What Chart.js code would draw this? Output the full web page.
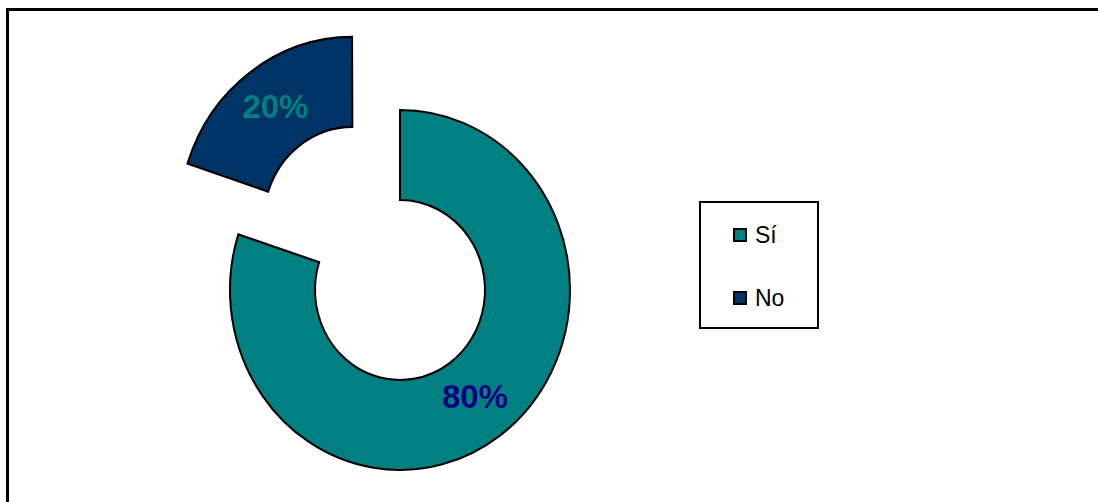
<!DOCTYPE html>
<html>
<head>
<meta charset="utf-8">
<script src="https://cdn.jsdelivr.net/npm/chart.js@4"></script>
<style>
    html, body { margin: 0; padding: 0; width: 1098px; height: 502px; overflow: hidden; background: #fff; }
    body { position: relative; font-family: "Liberation Sans", Arial, sans-serif; }
    #frame { position: absolute; left: 6px; top: 8px; width: 1200px; height: 600px; border: 3px solid #000; }
    #wrap { position: absolute; left: 0; top: 0; width: 1098px; height: 502px; }
    #legend { position: absolute; left: 699px; top: 201px; width: 116px; height: 124px; border: 2px solid #000; background: #fff; }
    .item { position: absolute; left: 32px; height: 24px; display: flex; align-items: center; font-size: 23px; color: #000; }
    .swatch { box-sizing: border-box; width: 14px; height: 14px; border: 2px solid #000; margin-right: 8px; }
</style>
</head>
<body>
<div id="frame"></div>
<div id="wrap"><canvas id="pie" width="1098" height="502"></canvas></div>
<div id="legend"></div>
<script>
const categories = ['Sí', 'No'];
const values = [80, 20];
const sliceColors = ['#008080', '#003366'];
const labelColors = ['#000080', '#008080'];
const explode = [0, 322]; // Chart.js moves a slice by about offset/4
const squashY = 180 / 170; // the original ring is a little taller than wide

// html legend, built from the same arrays
const legend = document.getElementById('legend');
categories.forEach((name, i) => {
    const item = document.createElement('div');
    item.className = 'item';
    item.style.top = (20 + i * 63) + 'px';
    item.innerHTML = '<span class="swatch" style="background:' + sliceColors[i] + '"></span>' + name;
    legend.appendChild(item);
});

// stretch the ring vertically, then write the percent labels on top
const ringTweaks = {
    id: 'ringTweaks',
    beforeDatasetsDraw(chart) {
        const ctx = chart.ctx;
        const arc = chart.getDatasetMeta(0).data[0];
        ctx.save();
        ctx.translate(arc.x, arc.y);
        ctx.scale(1, squashY);
        ctx.translate(-arc.x, -arc.y);
    },
    afterDatasetsDraw(chart) {
        const ctx = chart.ctx;
        ctx.restore();
        const meta = chart.getDatasetMeta(0);
        const total = values.reduce((a, b) => a + b, 0);
        ctx.save();
        ctx.font = 'bold 33px "Liberation Sans", Arial, sans-serif';
        ctx.textAlign = 'center';
        ctx.textBaseline = 'middle';
        meta.data.forEach((arc, i) => {
            const p = arc.getProps(['x', 'y', 'startAngle', 'endAngle', 'innerRadius', 'outerRadius']);
            const mid = (p.startAngle + p.endAngle) / 2;
            const circ = p.endAngle - p.startAngle;
            const fix = 1 - Math.sin(Math.min(Math.PI, circ));
            const shift = explode[i] / 4 * (1 + fix);
            const r = (p.innerRadius + p.outerRadius) / 2 + shift;
            ctx.fillStyle = labelColors[i];
            ctx.fillText(Math.round(values[i] / total * 100) + '%', p.x + Math.cos(mid) * r, p.y + Math.sin(mid) * r * squashY);
        });
        ctx.restore();
    }
};

new Chart(document.getElementById('pie'), {
    type: 'doughnut',
    data: {
        labels: categories,
        datasets: [{
            data: values,
            backgroundColor: sliceColors,
            borderColor: '#000',
            borderWidth: 2,
            borderJoinStyle: 'miter',
            offset: explode,
            hoverOffset: 0
        }]
    },
    options: {
        responsive: false,
        animation: false,
        radius: 170,
        cutout: '50%',
        layout: { padding: { left: 0, right: 298, top: 78, bottom: 0 } },
        plugins: {
            legend: { display: false },
            tooltip: { enabled: false }
        }
    },
    plugins: [ringTweaks]
});
</script>
</body>
</html>
